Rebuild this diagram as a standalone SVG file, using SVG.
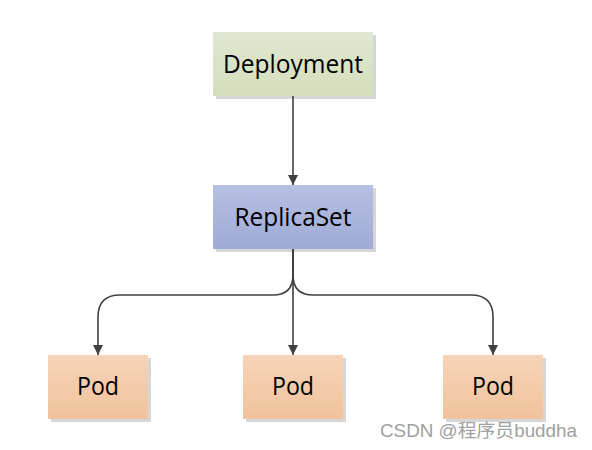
<svg xmlns="http://www.w3.org/2000/svg" width="592" height="450" viewBox="0 0 592 450">
<style>
.lbl{font-family:"Open Sans","Noto Sans","Liberation Sans",sans-serif;font-size:25px;fill:#000;text-anchor:middle}
.shadow{fill:#d6d6d6}
.edge{fill:none;stroke:#404040;stroke-width:1.6}
.wm{font-family:"Liberation Sans","Noto Sans CJK SC",sans-serif;font-size:18px;fill:#a0a0a0}
</style>
<defs>
<linearGradient id="gDep" x1="0" y1="0" x2="0" y2="1"><stop offset="0" stop-color="#e0e7d1"/><stop offset="1" stop-color="#d4deba"/></linearGradient>
<linearGradient id="gRs" x1="0" y1="0" x2="0" y2="1"><stop offset="0" stop-color="#b6c0e2"/><stop offset="1" stop-color="#9faad6"/></linearGradient>
<linearGradient id="gPod" x1="0" y1="0" x2="0" y2="1"><stop offset="0" stop-color="#f6d4b8"/><stop offset="1" stop-color="#f1c29b"/></linearGradient>
<marker id="arr" viewBox="0 0 10 10" refX="10" refY="5" markerWidth="10" markerHeight="10" markerUnits="userSpaceOnUse" orient="auto"><path d="M0,0 L10,5 L0,10 Z" fill="#404040"/></marker>
</defs>
<rect width="592" height="450" fill="#fff"/>
<g id="deployment">
<rect class="shadow" x="216" y="35" width="160" height="64"/>
<rect x="213" y="32" width="160" height="64" fill="url(#gDep)"/>
<text class="lbl" x="293" y="73" textLength="140" lengthAdjust="spacingAndGlyphs">Deployment</text>
</g>
<g id="replicaset">
<rect class="shadow" x="216" y="188" width="160" height="64"/>
<rect x="213" y="185" width="160" height="64" fill="url(#gRs)"/>
<text class="lbl" x="293" y="226" textLength="117" lengthAdjust="spacingAndGlyphs">ReplicaSet</text>
</g>
<g id="pod1">
<rect class="shadow" x="51" y="358" width="100" height="64"/>
<rect x="48" y="355" width="100" height="64" fill="url(#gPod)"/>
<text class="lbl" x="98" y="395" textLength="42" lengthAdjust="spacingAndGlyphs">Pod</text>
</g>
<g id="pod2">
<rect class="shadow" x="246" y="358" width="100" height="64"/>
<rect x="243" y="355" width="100" height="64" fill="url(#gPod)"/>
<text class="lbl" x="293" y="395" textLength="42" lengthAdjust="spacingAndGlyphs">Pod</text>
</g>
<g id="pod3">
<rect class="shadow" x="446" y="358" width="100" height="64"/>
<rect x="443" y="355" width="100" height="64" fill="url(#gPod)"/>
<text class="lbl" x="493" y="395" textLength="42" lengthAdjust="spacingAndGlyphs">Pod</text>
</g>
<g id="connectors">
<path class="edge" d="M293,96 L293,185" marker-end="url(#arr)"/>
<path class="edge" d="M293,249 L293,355" marker-end="url(#arr)"/>
<path class="edge" d="M293,249 L293,275 Q293,295 273,295 L120,295 Q98,295 98,317 L98,355" marker-end="url(#arr)"/>
<path class="edge" d="M293,249 L293,275 Q293,295 313,295 L471,295 Q493,295 493,317 L493,355" marker-end="url(#arr)"/>
</g>
<text class="wm" x="380" y="437" textLength="197" lengthAdjust="spacingAndGlyphs">CSDN @程序员buddha</text>
</svg>
